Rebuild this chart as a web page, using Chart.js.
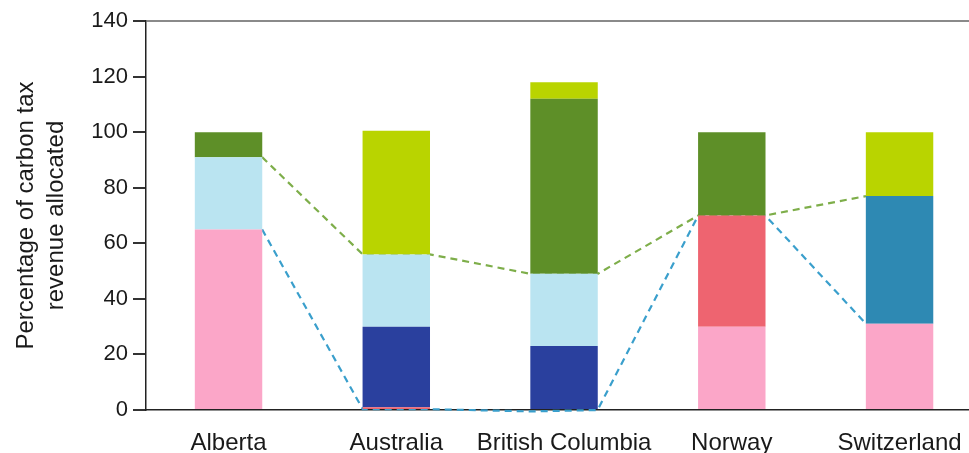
<!DOCTYPE html>
<html>
<head>
<meta charset="utf-8">
<script src="https://cdn.jsdelivr.net/npm/chart.js@4/dist/chart.umd.min.js"></script>
<style>
  html, body { margin: 0; padding: 0; background: #fff; }
  #wrap { width: 969px; height: 453px; }
</style>
</head>
<body>
<div id="wrap"><canvas id="chart"></canvas></div>
<script>
// Categorías y segmentos de cada barra (porcentaje de ingresos)
const categories = ['Alberta', 'Australia', 'British Columbia', 'Norway', 'Switzerland'];
const pinkVals      = [65, 0, 0, 30, 31];
const redVals       = [0, 1, 0, 40, 0];
const darkBlueVals  = [0, 29, 23, 0, 0];
const tealVals      = [0, 0, 0, 0, 46];
const lightBlueVals = [26, 26, 26, 0, 0];
const darkGreenVals = [9, 0, 63, 30, 0];
const limeVals      = [0, 44.5, 6, 0, 23];

// Líneas discontinuas: posición (borde de barra) y valor
const greenLineX = [0.2, 0.8, 1.2, 1.8, 2.2, 2.8, 3.2, 3.8];
const greenLineY = [91, 56, 56, 49, 49, 70, 70, 77];
const blueLineX  = [0.2, 0.8, 1.2, 1.8, 2.2, 2.8, 3.2, 3.8];
const blueLineY  = [65, 0.3, 0.3, -0.5, 0, 70, 70, 31];

const yTicks = [0, 20, 40, 60, 80, 100, 120, 140];

const font = "'Liberation Sans', Arial, Helvetica, sans-serif";

function barSet(label, vals, color) {
    return {
        type: 'bar',
        label: label,
        data: vals.map((v, i) => ({ x: i, y: v })),
        backgroundColor: color,
        borderWidth: 0,
        categoryPercentage: 1,
        barPercentage: 0.402,
        stack: 'bars',
        order: 1
    };
}

function lineSet(label, xs, ys, color, stack) {
    return {
        type: 'line',
        label: label,
        data: xs.map((x, i) => ({ x: x, y: ys[i] })),
        borderColor: color,
        borderWidth: 2.2,
        borderDash: [7, 5],
        pointRadius: 0,
        fill: false,
        clip: false,
        stack: stack,
        order: 2
    };
}

new Chart(document.getElementById('chart'), {
    data: {
        datasets: [
            barSet('Pink', pinkVals, '#FBA6C8'),
            barSet('Red', redVals, '#EE6470'),
            barSet('Dark blue', darkBlueVals, '#2A409E'),
            barSet('Teal', tealVals, '#2E89B3'),
            barSet('Light blue', lightBlueVals, '#BAE4F1'),
            barSet('Dark green', darkGreenVals, '#5E8F28'),
            barSet('Lime', limeVals, '#B9D400'),
            lineSet('Green line', greenLineX, greenLineY, '#7EAE4A', 'g'),
            lineSet('Blue line', blueLineX, blueLineY, '#3A9FCC', 'b')
        ]
    },
    options: {
        responsive: true,
        maintainAspectRatio: false,
        animation: false,
        layout: { padding: { top: 21, right: 0, bottom: 0, left: 0 } },
        plugins: {
            legend: { display: false },
            tooltip: { enabled: false }
        },
        scales: {
            x: {
                type: 'linear',
                stacked: true,
                offset: false,
                min: -0.492,
                max: 4.414,
                afterBuildTicks: scale => {
                    scale.ticks = categories.map((_, i) => ({ value: i }));
                },
                afterFit: scale => {
                    scale.height = 43;
                    scale.paddingLeft = 0;
                    scale.paddingRight = 0;
                },
                grid: { display: false, drawTicks: false },
                border: { display: true, color: '#222', width: 1.5 },
                ticks: {
                    padding: 19,
                    maxRotation: 0,
                    autoSkip: false,
                    color: '#1a1a1a',
                    font: { family: font, size: 24 },
                    callback: v => categories[v] ?? ''
                }
            },
            y: {
                stacked: true,
                min: 0,
                max: 140,
                afterBuildTicks: scale => {
                    scale.ticks = yTicks.map(v => ({ value: v }));
                },
                afterFit: scale => { scale.width = 146; },
                grid: {
                    color: ctx => ctx.tick && ctx.tick.value === 140 ? '#8a8a8a' : 'rgba(0,0,0,0)',
                    lineWidth: 2,
                    tickColor: '#333',
                    tickLength: 13
                },
                border: { display: true, color: '#222', width: 1.5 },
                ticks: {
                    padding: 5,
                    color: '#1a1a1a',
                    font: { family: font, size: 22 }
                },
                title: {
                    display: true,
                    text: ['Percentage of carbon tax', 'revenue allocated'],
                    color: '#1a1a1a',
                    font: { family: font, size: 24, lineHeight: 1.25 },
                    padding: { top: 11, bottom: 0 }
                }
            }
        }
    }
});
</script>
</body>
</html>
